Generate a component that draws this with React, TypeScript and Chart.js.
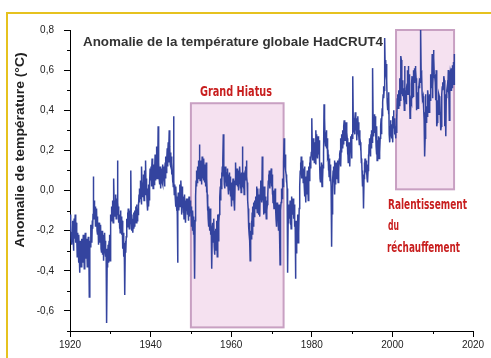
import React, { useEffect, useRef } from 'react';
import { Chart, registerables } from 'chart.js';

Chart.register(...registerables);

const START_YEAR = 1920;

// Monthly anomalies (°C), one row per year
const anom1920s = [
  -0.12,-0.20,-0.16,-0.24,-0.22,-0.27,-0.21,-0.18,-0.15,-0.24,-0.30,-0.22,
  -0.14,-0.24,-0.18,-0.12,-0.26,-0.19,-0.16,-0.25,-0.22,-0.33,-0.21,-0.27,
  -0.28,-0.36,-0.22,-0.31,-0.41,-0.27,-0.25,-0.33,-0.29,-0.38,-0.24,-0.30,
  -0.32,-0.25,-0.36,-0.22,-0.30,-0.27,-0.39,-0.24,-0.29,-0.21,-0.34,-0.26,
  -0.24,-0.33,-0.28,-0.38,-0.26,-0.31,-0.23,-0.35,-0.27,-0.53,-0.30,-0.25,
  -0.28,-0.22,-0.17,-0.24,-0.20,-0.26,-0.15,-0.19,-0.12,0.07,-0.10,-0.14,
  -0.05,-0.10,-0.08,-0.14,-0.18,-0.11,-0.16,-0.09,-0.20,-0.13,-0.22,-0.17,
  -0.22,-0.27,-0.16,-0.21,-0.26,-0.19,-0.24,-0.17,-0.29,-0.23,-0.31,-0.20,
  -0.26,-0.32,-0.22,-0.28,-0.35,-0.24,-0.27,-0.21,-0.30,-0.25,-0.33,-0.29,
  -0.40,-0.66,-0.38,-0.30,-0.34,-0.27,-0.36,-0.29,-0.25,-0.31,-0.22,-0.35,
];
const anom1930s = [
  -0.18,-0.12,-0.15,-0.08,-0.14,-0.10,-0.05,-0.12,-0.16,-0.03,0.06,-0.09,
  -0.07,-0.13,-0.05,-0.11,-0.02,-0.14,-0.09,-0.04,-0.12,0.15,-0.06,-0.10,
  -0.08,-0.16,-0.12,-0.19,-0.14,-0.21,-0.10,-0.17,-0.13,-0.22,-0.18,-0.15,
  -0.24,-0.29,-0.21,-0.27,-0.33,-0.26,-0.30,-0.52,-0.28,-0.25,-0.31,-0.23,
  -0.20,-0.14,-0.18,-0.11,-0.16,-0.09,-0.15,-0.12,-0.19,-0.13,-0.17,-0.10,
  -0.13,0.10,-0.16,-0.20,-0.12,-0.18,-0.14,-0.21,-0.15,-0.11,-0.19,-0.16,
  -0.18,-0.10,-0.14,-0.08,-0.13,-0.16,-0.07,-0.11,-0.15,-0.09,-0.12,-0.06,
  -0.08,-0.02,-0.06,0.01,-0.04,0.05,-0.01,0.03,-0.07,0.12,0.02,-0.03,
  0.04,-0.03,0.08,0.01,-0.05,0.03,0.10,-0.02,0.05,0.15,0.00,0.06,
  0.02,-0.06,0.01,-0.10,-0.04,0.03,-0.08,-0.01,-0.05,0.04,0.11,0.07,
];
const anom1940s = [
  0.05,0.12,0.02,0.09,0.16,0.04,0.10,0.01,0.07,0.13,0.03,0.08,
  0.10,0.18,0.05,0.14,0.08,0.22,0.11,0.06,0.15,0.09,0.32,0.12,
  0.14,0.06,0.10,0.03,0.12,0.08,0.01,0.09,0.05,0.11,0.04,0.13,
  0.03,0.09,0.05,0.12,0.07,0.02,0.10,0.14,0.06,0.17,0.09,0.13,
  0.15,0.21,0.12,0.18,0.24,0.14,0.20,0.30,0.16,0.22,0.13,0.19,
  0.12,0.17,0.08,0.14,0.10,0.04,0.07,0.02,0.37,0.05,-0.02,0.03,
  0.01,-0.04,-0.08,0.02,-0.06,-0.10,-0.03,-0.12,-0.36,-0.07,-0.01,-0.09,
  -0.10,-0.02,-0.06,0.03,-0.08,-0.04,0.05,-0.01,-0.12,-0.05,0.02,-0.07,
  -0.03,-0.11,-0.06,-0.14,-0.09,-0.02,-0.12,-0.07,-0.16,-0.05,-0.10,-0.04,
  -0.06,-0.12,-0.04,-0.09,-0.15,-0.07,-0.03,-0.10,-0.13,-0.05,-0.08,-0.11,
];
const anom1950s = [
  -0.08,-0.14,-0.18,-0.12,-0.20,-0.10,-0.16,-0.22,-0.13,-0.19,-0.28,-0.44,
  -0.15,-0.08,-0.03,0.05,0.02,0.10,0.04,0.08,0.12,0.06,0.15,0.09,
  0.14,0.23,0.10,0.05,0.12,0.07,0.15,0.03,0.09,0.17,0.06,0.11,
  0.12,0.05,0.16,0.09,0.13,0.04,0.10,0.02,0.08,0.14,-0.01,0.06,
  -0.02,-0.10,-0.06,-0.14,-0.08,-0.18,-0.12,-0.20,-0.15,-0.09,-0.22,-0.16,
  -0.18,-0.25,-0.39,-0.21,-0.16,-0.26,-0.19,-0.23,-0.14,-0.28,-0.32,-0.20,
  -0.24,-0.30,-0.19,-0.27,-0.15,-0.22,-0.33,-0.18,-0.12,-0.25,-0.21,-0.16,
  -0.12,-0.08,-0.03,0.02,-0.05,0.06,0.01,0.09,0.04,0.12,0.07,0.15,
  0.28,0.14,0.10,0.03,0.08,0.01,0.12,0.06,0.04,0.09,0.02,0.07,
  0.06,0.11,0.02,0.08,-0.02,0.05,0.09,0.00,0.07,-0.03,0.04,0.01,
];
const anom1960s = [
  -0.02,-0.08,0.04,-0.05,0.02,0.06,-0.03,0.01,-0.06,0.05,-0.10,0.03,
  0.08,0.14,0.03,0.09,0.05,0.11,0.02,0.07,0.04,0.10,0.00,0.06,
  0.05,0.12,0.08,0.01,0.06,-0.01,0.04,0.09,0.02,0.22,0.03,0.07,
  0.01,0.09,-0.02,0.06,0.03,0.10,0.05,0.12,0.08,0.15,0.07,0.04,
  0.02,-0.05,-0.09,-0.12,-0.18,-0.22,-0.16,-0.25,-0.35,-0.28,-0.20,-0.24,
  -0.15,-0.19,-0.11,-0.22,-0.08,-0.14,-0.18,-0.06,-0.13,-0.10,-0.05,-0.09,
  -0.09,-0.03,-0.07,0.02,-0.05,-0.11,-0.04,0.01,-0.08,-0.02,-0.12,-0.06,
  -0.08,-0.13,0.01,-0.04,0.05,-0.02,0.03,-0.06,0.17,0.00,-0.05,0.02,
  -0.12,-0.04,0.02,-0.09,-0.06,-0.11,-0.03,-0.08,-0.14,-0.05,-0.10,-0.07,
  -0.06,-0.02,0.05,0.08,0.03,0.10,0.06,0.01,0.07,0.04,0.09,0.11,
];
const anom1970s = [
  0.02,0.08,-0.02,0.03,-0.06,0.00,-0.04,-0.09,-0.03,-0.08,0.01,-0.07,
  -0.08,-0.14,-0.18,-0.10,-0.06,-0.12,-0.09,-0.15,-0.20,-0.11,-0.07,-0.16,
  -0.22,-0.37,-0.14,-0.10,-0.06,-0.02,0.01,-0.04,0.03,0.06,0.02,0.08,
  0.14,0.26,0.20,0.17,0.12,0.18,0.10,0.08,0.04,0.06,0.01,-0.03,
  -0.41,-0.16,-0.10,-0.07,-0.12,-0.08,-0.14,-0.05,-0.17,-0.11,-0.19,-0.13,
  -0.03,-0.10,-0.06,-0.12,-0.04,-0.09,-0.14,-0.07,-0.11,-0.18,-0.15,-0.44,
  -0.24,-0.31,-0.20,-0.15,-0.22,-0.12,-0.18,-0.26,-0.14,-0.21,-0.09,-0.05,
  0.02,0.10,0.14,0.08,0.17,0.12,0.06,0.15,0.09,0.13,0.04,0.11,
  0.08,0.02,0.12,-0.03,0.05,0.01,-0.06,0.07,-0.02,0.04,0.10,-0.01,
  0.03,-0.05,0.08,0.12,0.05,0.14,0.09,0.17,0.11,0.15,0.19,0.22,
];
const anom1980s = [
  0.36,0.20,0.15,0.22,0.26,0.18,0.21,0.14,0.19,0.24,0.17,0.13,
  0.30,0.22,0.28,0.19,0.24,0.16,0.27,0.21,0.18,0.25,0.20,0.15,
  0.06,0.12,0.04,0.09,0.14,0.07,0.02,0.10,0.05,0.13,0.11,0.18,
  0.43,0.32,0.36,0.25,0.29,0.22,0.27,0.30,0.21,0.26,0.19,0.17,
  0.18,0.10,0.14,0.07,0.16,0.11,0.05,0.13,0.08,0.02,-0.06,-0.28,
  0.02,-0.12,0.05,0.10,0.04,0.12,0.07,0.15,-0.02,0.09,0.03,0.06,
  0.14,0.08,0.11,0.06,0.15,0.10,0.04,0.12,0.09,0.16,0.13,0.18,
  0.20,0.26,0.12,0.22,0.19,0.28,0.24,0.30,0.21,0.27,0.23,0.32,
  0.35,0.28,0.33,0.25,0.31,0.27,0.34,0.22,0.29,0.26,0.18,0.21,
  0.14,0.22,0.17,0.24,0.19,0.12,0.23,0.27,0.20,0.25,0.16,0.28,
];
const anom1990s = [
  0.26,0.31,0.57,0.34,0.29,0.36,0.32,0.28,0.35,0.39,0.33,0.30,
  0.33,0.28,0.25,0.36,0.31,0.37,0.29,0.34,0.27,0.23,0.30,0.26,
  0.24,0.20,0.22,0.14,0.16,0.10,0.05,0.02,0.08,0.04,-0.09,0.06,
  0.14,0.10,0.16,0.12,0.09,0.15,0.08,0.11,0.06,0.13,0.04,0.10,
  0.18,0.12,0.23,0.20,0.26,0.22,0.17,0.25,0.28,0.21,0.30,0.24,
  0.42,0.61,0.36,0.31,0.27,0.34,0.38,0.32,0.29,0.37,0.30,0.22,
  0.18,0.32,0.15,0.22,0.17,0.25,0.20,0.27,0.16,0.23,0.19,0.26,
  0.26,0.32,0.36,0.28,0.34,0.41,0.37,0.44,0.48,0.52,0.46,0.50,
  0.58,0.76,0.60,0.62,0.65,0.57,0.63,0.55,0.44,0.46,0.40,0.43,
  0.38,0.49,0.28,0.32,0.24,0.30,0.35,0.27,0.31,0.26,0.33,0.29,
];
const anom2000s = [
  0.24,0.37,0.33,0.40,0.31,0.34,0.28,0.36,0.30,0.26,0.32,0.29,
  0.38,0.35,0.46,0.43,0.48,0.41,0.50,0.44,0.47,0.42,0.56,0.45,
  0.58,0.67,0.65,0.50,0.48,0.52,0.55,0.47,0.51,0.45,0.49,0.40,
  0.62,0.48,0.47,0.44,0.50,0.43,0.51,0.53,0.55,0.60,0.48,0.62,
  0.50,0.58,0.52,0.48,0.36,0.42,0.39,0.45,0.44,0.53,0.57,0.46,
  0.57,0.47,0.58,0.60,0.54,0.61,0.58,0.55,0.62,0.60,0.56,0.52,
  0.40,0.49,0.45,0.43,0.41,0.52,0.50,0.53,0.51,0.56,0.54,0.64,
  0.81,0.60,0.55,0.58,0.48,0.44,0.46,0.47,0.43,0.41,0.35,0.39,
  0.17,0.26,0.48,0.38,0.34,0.37,0.42,0.37,0.43,0.50,0.47,0.40,
  0.44,0.39,0.42,0.48,0.45,0.52,0.58,0.55,0.57,0.51,0.68,0.46,
];
const anom2010s = [
  0.52,0.58,0.70,0.66,0.58,0.56,0.57,0.54,0.45,0.48,0.60,0.36,
  0.32,0.34,0.40,0.45,0.38,0.44,0.48,0.47,0.41,0.46,0.38,0.39,
  0.30,0.32,0.36,0.48,0.52,0.54,0.50,0.53,0.56,0.57,0.55,0.32,
  0.48,0.42,0.44,0.27,0.48,0.46,0.50,0.52,0.55,0.49,0.60,0.48,
  0.50,0.35,0.52,0.54,0.59,0.58,0.50,0.61,0.58,0.56,0.51,0.62,
  0.62,0.59,0.64,0.53,0.68,
];

// Axis setup (values)
const X_MIN = 1920;
const X_MAX = 2020;
const Y_MIN = -0.7;
const Y_MAX = 0.8;

// Highlighted periods: [startYear, endYear, lowValue, highValue]
const hiatusBox = [1950, 1973, -0.682, 0.435];
const slowdownBox = [2000.9, 2015.3, 0.006, 0.8];

// Texts
const chartTitle = 'Anomalie de la température globale HadCRUT4';
const yTitle = 'Anomalie de température (°C)';
const hiatusLabel = 'Grand Hiatus';
const slowdownLabel = ['Ralentissement', 'du', 'réchauffement'];

const SANS = '"Liberation Sans", Arial, Helvetica, sans-serif';
const NARROW = '"Liberation Sans Narrow", "DejaVu Sans Condensed", "Liberation Sans", sans-serif';
const RED = '#c81e1e';

function fitText(ctx: CanvasRenderingContext2D, text: string, x: number, y: number, w: number, align: CanvasTextAlign) {
  const m = ctx.measureText(text).width;
  const s = m > 0 ? w / m : 1;
  ctx.save();
  ctx.translate(x, y);
  ctx.scale(s, 1);
  ctx.textAlign = align;
  ctx.fillText(text, 0, 0);
  ctx.restore();
}

const isMajorX = (v: number) => Math.round(v) % 20 === 0;
const isMajorY = (v: number) => Math.round(v * 10) % 2 === 0;

const decorPlugin = {
  id: 'decor',
  beforeDraw(chart: any) {
    const { ctx, width, height } = chart;
    ctx.save();
    ctx.fillStyle = '#ffffff';
    ctx.fillRect(0, 0, width, height);
    ctx.strokeStyle = '#e6c21f';
    ctx.lineWidth = 2;
    ctx.beginPath();
    ctx.moveTo(7, height);
    ctx.lineTo(7, 13);
    ctx.lineTo(width, 13);
    ctx.stroke();
    ctx.restore();
  },
  beforeDatasetsDraw(chart: any) {
    const { ctx } = chart;
    const xs = chart.scales.x;
    const ys = chart.scales.y;
    ctx.save();
    for (const b of [hiatusBox, slowdownBox]) {
      const x0 = xs.getPixelForValue(b[0]);
      const x1 = xs.getPixelForValue(b[1]);
      const y0 = ys.getPixelForValue(b[3]);
      const y1 = ys.getPixelForValue(b[2]);
      ctx.fillStyle = '#f5e1f0';
      ctx.fillRect(x0, y0, x1 - x0, y1 - y0);
      ctx.strokeStyle = '#c8a0c2';
      ctx.lineWidth = 2;
      ctx.strokeRect(x0, y0, x1 - x0, y1 - y0);
    }
    ctx.restore();
  },
  afterDraw(chart: any) {
    const { ctx, chartArea } = chart;
    const xs = chart.scales.x;
    const ys = chart.scales.y;
    ctx.save();
    ctx.strokeStyle = '#000';
    ctx.lineWidth = 1;
    ctx.beginPath();
    for (const t of xs.ticks) {
      if (isMajorX(t.value)) continue;
      const px = Math.round(xs.getPixelForValue(t.value)) + 0.5;
      ctx.moveTo(px, chartArea.bottom);
      ctx.lineTo(px, chartArea.bottom + 3);
    }
    for (const t of ys.ticks) {
      if (isMajorY(t.value)) continue;
      const py = Math.round(ys.getPixelForValue(t.value)) + 0.5;
      ctx.moveTo(chartArea.left, py);
      ctx.lineTo(chartArea.left - 3, py);
    }
    ctx.stroke();

    ctx.fillStyle = '#333333';
    ctx.font = `bold 12px ${SANS}`;
    ctx.textBaseline = 'alphabetic';
    fitText(ctx, chartTitle, 83, 46, 300, 'left');

    ctx.save();
    ctx.translate(21, 150);
    ctx.rotate(-Math.PI / 2);
    ctx.fillStyle = '#222222';
    ctx.font = `bold 12px ${SANS}`;
    ctx.textBaseline = 'middle';
    fitText(ctx, yTitle, 0, 0, 195, 'center');
    ctx.restore();

    ctx.fillStyle = RED;
    ctx.font = `bold 14px ${NARROW}`;
    ctx.textBaseline = 'alphabetic';
    fitText(ctx, hiatusLabel, 236, 96, 72, 'center');
    fitText(ctx, slowdownLabel[0], 388, 209, 79, 'left');
    fitText(ctx, slowdownLabel[1], 388, 230, 11, 'left');
    fitText(ctx, slowdownLabel[2], 387, 252, 73, 'left');
    ctx.restore();
  },
};

export default function App() {
  const ref = useRef<HTMLCanvasElement | null>(null);

  useEffect(() => {
    const canvas = ref.current;
    if (!canvas) return;
    const values = [
      ...anom1920s, ...anom1930s, ...anom1940s, ...anom1950s, ...anom1960s,
      ...anom1970s, ...anom1980s, ...anom1990s, ...anom2000s, ...anom2010s,
    ];
    const points = values.map((v, i) => ({ x: START_YEAR + (i + 0.5) / 12, y: v }));

    const chart = new Chart(canvas, {
      type: 'line',
      data: {
        datasets: [
          {
            data: points,
            borderColor: '#34449f',
            borderWidth: 1.5,
            pointRadius: 0,
            tension: 0,
            fill: false,
          },
        ],
      },
      options: {
        responsive: false,
        animation: false,
        events: [],
        layout: { padding: { top: 30, right: 18, left: 0, bottom: 0 } },
        plugins: {
          legend: { display: false },
          tooltip: { enabled: false },
          title: { display: false },
        },
        scales: {
          x: {
            type: 'linear',
            min: X_MIN,
            max: X_MAX,
            afterFit: (s: any) => { s.height = 27; },
            ticks: {
              stepSize: 10,
              autoSkip: false,
              maxRotation: 0,
              padding: 2,
              color: '#222',
              font: { family: SANS, size: 10 },
              callback: (v: any) => (isMajorX(Number(v)) ? String(Math.round(Number(v))) : ''),
            },
            grid: {
              drawOnChartArea: false,
              drawTicks: true,
              tickLength: 6,
              tickColor: (c: any) => (c.tick && isMajorX(c.tick.value) ? '#000' : 'rgba(0,0,0,0)'),
            },
            border: { display: true, color: '#000', width: 1 },
          },
          y: {
            type: 'linear',
            min: Y_MIN,
            max: Y_MAX,
            afterFit: (s: any) => { s.width = 70; },
            ticks: {
              stepSize: 0.1,
              autoSkip: false,
              padding: 10,
              color: '#222',
              font: { family: SANS, size: 10 },
              callback: (v: any) => {
                const k = Math.round(Number(v) * 10);
                if (k % 2 !== 0) return '';
                return (k / 10).toFixed(1).replace('.', ',');
              },
            },
            grid: {
              drawOnChartArea: false,
              drawTicks: true,
              tickLength: 6,
              tickColor: (c: any) => (c.tick && isMajorY(c.tick.value) ? '#000' : 'rgba(0,0,0,0)'),
            },
            border: { display: true, color: '#000', width: 1 },
          },
        },
      },
      plugins: [decorPlugin],
    });
    return () => chart.destroy();
  }, []);

  return (
    <div style={{ position: 'fixed', left: 0, top: 0, width: 491, height: 358, background: '#fff' }}>
      <canvas ref={ref} width={491} height={358} style={{ display: 'block', width: 491, height: 358 }} />
    </div>
  );
}
